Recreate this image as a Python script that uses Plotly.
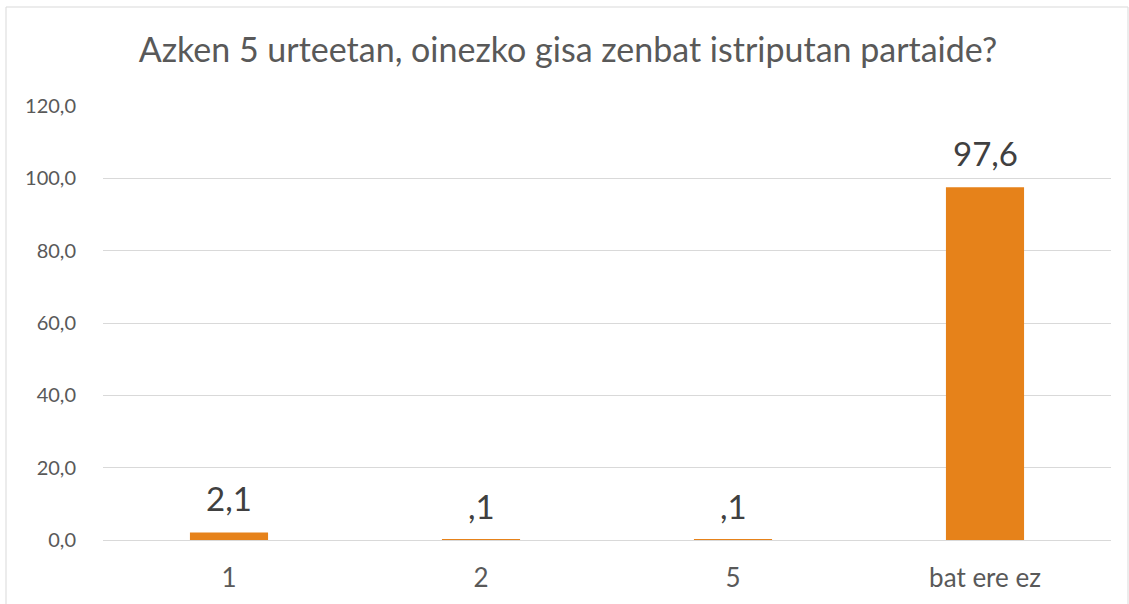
import plotly.graph_objects as go

categories = ["1", "2", "5", "bat ere ez"]
values = [2.1, 0.1, 0.1, 97.6]
labels = ["2,1", ",1", ",1", "97,6"]
title_text = "Azken 5 urteetan, oinezko gisa zenbat istriputan partaide?"

FONT = "Lato, 'Open Sans', sans-serif"

fig = go.Figure()
fig.add_trace(go.Bar(
    x=categories, y=values,
    marker=dict(color="#E6821A", line=dict(width=0)),
    hoverinfo="skip",
))

# category axis: annotation x given as category index
for i, (v, t) in enumerate(zip(values, labels)):
    fig.add_annotation(x=i, y=v, text=t, showarrow=False, yanchor="bottom",
                       xanchor="center", yshift=12,
                       font=dict(family=FONT, size=33, color="#404040"))

W, H = 1129, 604
l, r, t, b = 103, 18, 106, 64
pw, ph = W - l - r, H - t - b

def px_x(p):
    return (p - l) / pw

def px_y(p):
    return (H - b - p) / ph

fig.add_shape(type="rect", xref="paper", yref="paper",
              x0=px_x(6), x1=px_x(1128), y0=px_y(610), y1=px_y(7),
              line=dict(color="#D9D9D9", width=1), layer="below")

fig.update_layout(
    width=W, height=H, margin=dict(l=l, r=r, t=t, b=b),
    paper_bgcolor="white", plot_bgcolor="white",
    separators=",.",
    bargap=0.69,
    showlegend=False,
    title=dict(text=title_text, x=0.503, xanchor="center", y=1 - 50 / H, yanchor="middle",
               font=dict(family=FONT, size=34, color="#595959")),
    xaxis=dict(type="category", categoryorder="array", categoryarray=categories,
               range=[-0.5, len(categories) - 0.5],
               showgrid=False, showline=False, ticks="", ticklabelstandoff=20,
               tickfont=dict(family=FONT, size=26, color="#595959")),
    yaxis=dict(range=[0, 120.05], tickvals=[0, 20, 40, 60, 80, 100, 120], tickformat=".1f",
               showgrid=True,
               gridcolor="#D9D9D9", gridwidth=1, zeroline=True, zerolinecolor="#D9D9D9",
               zerolinewidth=1, showline=False, ticks="", ticklabelstandoff=26,
               tickfont=dict(family=FONT, size=20, color="#595959")),
)

fig.write_html("out.html", config={"displayModeBar": False},
               post_script="document.body.style.margin='0';document.body.style.overflow='hidden';")
